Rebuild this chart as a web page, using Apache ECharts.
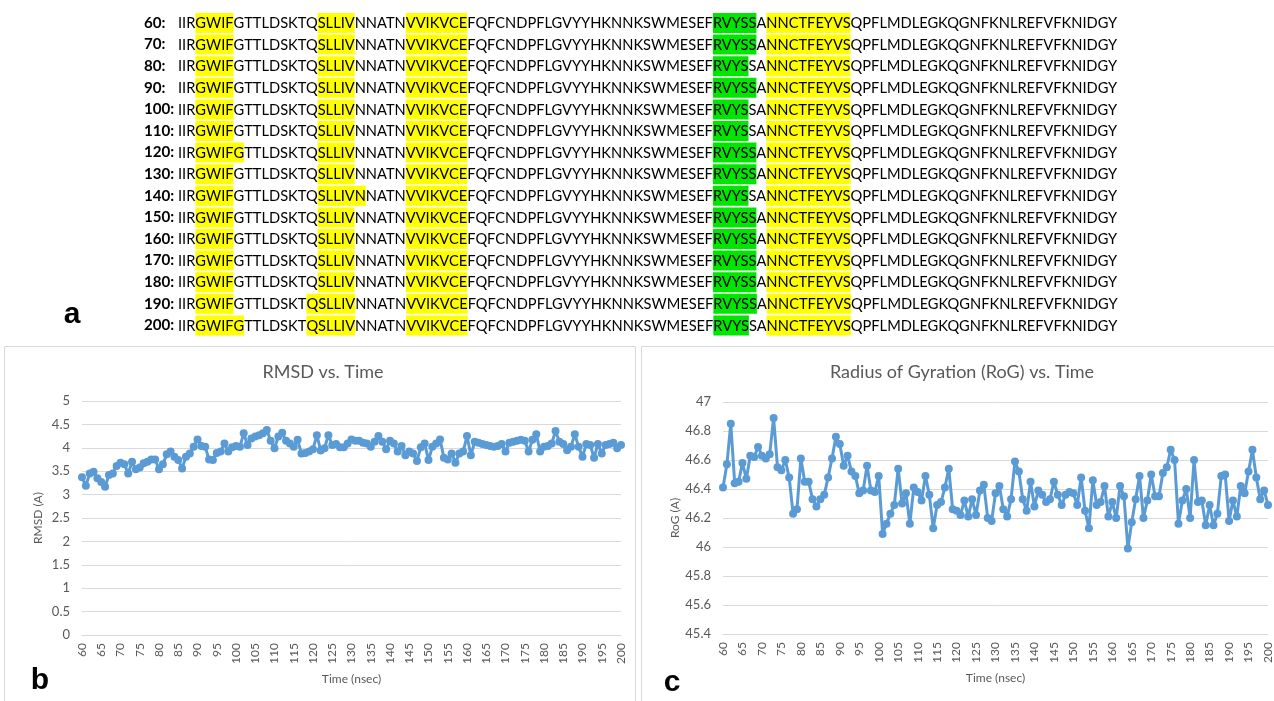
<!DOCTYPE html>
<html>
<head>
<meta charset="utf-8">
<script src="https://cdn.jsdelivr.net/npm/echarts@6/dist/echarts.min.js"></script>
<style>
  html, body { margin: 0; padding: 0; background: #fff; }
  #chart { width: 1274px; height: 701px; }
</style>
</head>
<body>
<div id="chart"></div>
<script>
// Datos de la figura
const rowLabels = ['60:', '70:', '80:', '90:', '100:', '110:', '120:', '130:', '140:', '150:', '160:', '170:', '180:', '190:', '200:'];
const sequence = 'IIRGWIFGTTLDSKTQSLLIVNNATNVVIKVCEFQFCNDPFLGVYYHKNNKSWMESEFRVYSSANNCTFEYVSQPFLMDLEGKQGNFKNLREFVFKNIDGY';

// regiones resaltadas por fila: [inicio, fin (exclusivo), color]
const baseMarks = [[3, 7, 'y'], [16, 21, 'y'], [26, 33, 'y'], [58, 63, 'g'], [64, 73, 'y']];
const rowMarks = [
  baseMarks,
  baseMarks,
  [[3, 7, 'y'], [16, 21, 'y'], [26, 33, 'y'], [58, 62, 'g'], [64, 73, 'y']],
  baseMarks,
  [[3, 7, 'y'], [16, 21, 'y'], [26, 33, 'y'], [58, 62, 'g'], [64, 73, 'y']],
  [[3, 7, 'y'], [16, 21, 'y'], [26, 33, 'y'], [58, 62, 'g'], [64, 73, 'y']],
  [[3, 8, 'y'], [16, 21, 'y'], [26, 33, 'y'], [58, 63, 'g'], [64, 73, 'y']],
  baseMarks,
  [[3, 7, 'y'], [16, 22, 'y'], [26, 33, 'y'], [58, 62, 'g'], [64, 73, 'y']],
  baseMarks,
  baseMarks,
  baseMarks,
  baseMarks,
  [[3, 7, 'y'], [15, 21, 'y'], [26, 33, 'y'], [58, 63, 'g'], [64, 73, 'y']],
  [[3, 8, 'y'], [15, 21, 'y'], [26, 33, 'y'], [58, 62, 'g'], [64, 73, 'y']]
];

const times = [];
for (let t = 60; t <= 200; t++) times.push(String(t));

const rmsd = [
  3.37, 3.19, 3.45, 3.49, 3.35, 3.27, 3.17, 3.42, 3.45, 3.61,
  3.68, 3.65, 3.45, 3.70, 3.54, 3.58, 3.67, 3.70, 3.75, 3.75,
  3.54, 3.65, 3.86, 3.92, 3.81, 3.74, 3.56, 3.81, 3.88, 4.02,
  4.18, 4.04, 4.02, 3.75, 3.74, 3.89, 3.92, 4.09, 3.92, 4.01,
  4.04, 4.02, 4.31, 4.06, 4.20, 4.24, 4.27, 4.31, 4.38, 4.15,
  3.99, 4.24, 4.32, 4.15, 4.09, 4.02, 4.17, 3.88, 3.89, 3.92,
  3.97, 4.27, 3.94, 3.99, 4.27, 4.06, 4.08, 4.01, 4.01, 4.09,
  4.18, 4.15, 4.15, 4.11, 4.09, 4.02, 4.13, 4.25, 4.13, 3.97,
  4.15, 4.09, 3.92, 4.04, 3.84, 3.92, 3.88, 3.72, 4.01, 4.09,
  3.74, 4.02, 4.09, 4.18, 3.79, 3.75, 3.88, 3.68, 3.88, 3.92,
  4.25, 3.84, 4.13, 4.11, 4.08, 4.06, 4.04, 4.02, 4.04, 4.08,
  3.92, 4.11, 4.13, 4.15, 4.17, 4.15, 3.92, 4.17, 4.29, 3.92,
  4.02, 4.04, 4.09, 4.36, 4.13, 4.08, 3.95, 4.02, 4.29, 4.02,
  3.81, 4.08, 4.06, 3.79, 4.08, 3.88, 4.06, 4.08, 4.11, 3.99, 4.06
];

const rog = [
  46.41, 46.57, 46.85, 46.44, 46.45, 46.58, 46.47, 46.63, 46.62, 46.69,
  46.63, 46.61, 46.64, 46.89, 46.55, 46.53, 46.60, 46.48, 46.23, 46.26,
  46.61, 46.45, 46.45, 46.33, 46.28, 46.33, 46.36, 46.48, 46.61, 46.76,
  46.71, 46.56, 46.63, 46.52, 46.49, 46.37, 46.39, 46.56, 46.39, 46.38,
  46.49, 46.09, 46.16, 46.23, 46.29, 46.54, 46.30, 46.37, 46.16, 46.41,
  46.38, 46.32, 46.49, 46.36, 46.13, 46.29, 46.31, 46.41, 46.54, 46.26,
  46.25, 46.22, 46.32, 46.21, 46.33, 46.22, 46.39, 46.43,
  46.20, 46.18, 46.37, 46.42, 46.26, 46.21, 46.33, 46.59, 46.52, 46.33,
  46.25, 46.45, 46.28, 46.39, 46.36, 46.31, 46.33, 46.45, 46.36, 46.29,
  46.36, 46.38, 46.37, 46.29, 46.48, 46.25, 46.13, 46.46, 46.29, 46.31,
  46.42, 46.21, 46.31, 46.20, 46.42, 46.35, 45.99, 46.17, 46.33, 46.49,
  46.20, 46.32, 46.50, 46.35, 46.35, 46.51, 46.55, 46.67, 46.60, 46.16,
  46.32, 46.40, 46.20, 46.60, 46.31, 46.32, 46.15, 46.29, 46.15, 46.23,
  46.49, 46.50, 46.18, 46.32, 46.21, 46.42, 46.37, 46.52, 46.67, 46.48,
  46.33, 46.39, 46.29
];

const FONT = 'Lato, "Open Sans", sans-serif';
const GREY = '#595959';
const LINE = '#5B9BD5';

// Ajustar el tamaño de letra para que la secuencia ocupe el mismo ancho
const ctx = document.createElement('canvas').getContext('2d');
ctx.font = '100px Lato';
const seqFontSize = 100 * 940 / ctx.measureText(sequence).width;

// Construir el texto enriquecido de una fila
function richRow(marks) {
  const kind = new Array(sequence.length).fill('n');
  marks.forEach(m => {
    for (let i = m[0]; i < m[1]; i++) kind[i] = m[2];
  });
  let out = '';
  let start = 0;
  for (let i = 1; i <= sequence.length; i++) {
    if (i === sequence.length || kind[i] !== kind[start]) {
      out += '{' + kind[start] + '|' + sequence.slice(start, i) + '}';
      start = i;
    }
  }
  return out;
}

const graphics = [];

// Marcos de los paneles
graphics.push({ type: 'rect', shape: { x: 4.5, y: 346.5, width: 631, height: 400 }, style: { fill: 'none', stroke: '#D9D9D9', lineWidth: 1 }, silent: true });
graphics.push({ type: 'rect', shape: { x: 641.5, y: 346.5, width: 640, height: 400 }, style: { fill: 'none', stroke: '#D9D9D9', lineWidth: 1 }, silent: true });

// Alineamiento de secuencias
const tok = { fontFamily: FONT, fontSize: seqFontSize, fill: '#000', padding: [3, 0, 2, 0] };
rowLabels.forEach((label, r) => {
  const y = 23 + r * 21.6;
  graphics.push({
    type: 'text', x: 144, y: y,
    style: { text: label, fontFamily: FONT, fontSize: seqFontSize + 0.5, fontWeight: 'bold', fill: '#000', verticalAlign: 'middle' }
  });
  graphics.push({
    type: 'text', x: 178, y: y, z: 1,
    style: {
      text: richRow(rowMarks[r]),
      fontFamily: FONT, fontSize: seqFontSize, fill: '#000', verticalAlign: 'middle',
      rich: {
        n: Object.assign({}, tok),
        y: Object.assign({ backgroundColor: '#FFFF00' }, tok),
        g: Object.assign({ backgroundColor: '#00E600' }, tok)
      }
    }
  });
});

// Letras de los paneles
[['a', 72, 315], ['b', 40, 681], ['c', 672, 683]].forEach(p => {
  graphics.push({
    type: 'text', x: p[1], y: p[2],
    style: { text: p[0], fontFamily: 'Liberation Sans, Arial, sans-serif', fontSize: 30, fontWeight: 'bold', fill: '#000', textAlign: 'center', verticalAlign: 'middle' }
  });
});

// Títulos
graphics.push({ type: 'text', x: 323, y: 372, style: { text: 'RMSD vs. Time', fontFamily: FONT, fontSize: 18, fill: GREY, textAlign: 'center', verticalAlign: 'middle' } });
graphics.push({ type: 'text', x: 962, y: 372, style: { text: 'Radius of Gyration (RoG) vs. Time', fontFamily: FONT, fontSize: 18, fill: GREY, textAlign: 'center', verticalAlign: 'middle' } });

function xAxisOf(gridIndex) {
  return {
    type: 'category', gridIndex: gridIndex, data: times, boundaryGap: false,
    axisLine: { lineStyle: { color: '#D9D9D9' } },
    axisTick: { show: false },
    axisLabel: { interval: 4, rotate: 90, fontFamily: FONT, fontSize: 12, color: GREY, margin: 8 },
    splitLine: { show: false },
    name: 'Time (nsec)', nameLocation: 'middle', nameGap: 38,
    nameTextStyle: { fontFamily: FONT, fontSize: 12, color: GREY }
  };
}

function yAxisOf(gridIndex, min, max, interval, name) {
  return {
    type: 'value', gridIndex: gridIndex, min: min, max: max, interval: interval,
    axisLine: { show: false }, axisTick: { show: false },
    axisLabel: { fontFamily: FONT, fontSize: 13, color: GREY, margin: 12, formatter: v => String(+v.toFixed(1)) },
    splitLine: { lineStyle: { color: '#D9D9D9', width: 1 } },
    name: name, nameLocation: 'middle', nameRotate: 90, nameGap: 38,
    nameTextStyle: { fontFamily: FONT, fontSize: 12, color: GREY }
  };
}

function seriesOf(index, values) {
  return {
    type: 'line', xAxisIndex: index, yAxisIndex: index, data: values,
    symbol: 'circle', symbolSize: 8, showSymbol: true, showAllSymbol: true,
    lineStyle: { color: LINE, width: 3 },
    itemStyle: { color: LINE },
    animation: false
  };
}

const chart = echarts.init(document.getElementById('chart'));
chart.setOption({
  animation: false,
  grid: [
    { left: 82, top: 401, width: 539, height: 234 },
    { left: 723, top: 402, width: 545, height: 232 }
  ],
  xAxis: [xAxisOf(0), xAxisOf(1)],
  yAxis: [yAxisOf(0, 0, 5, 0.5, 'RMSD (A)'), yAxisOf(1, 45.4, 47, 0.2, 'RoG (A)')],
  series: [seriesOf(0, rmsd), seriesOf(1, rog)],
  graphic: graphics
});
</script>
</body>
</html>
